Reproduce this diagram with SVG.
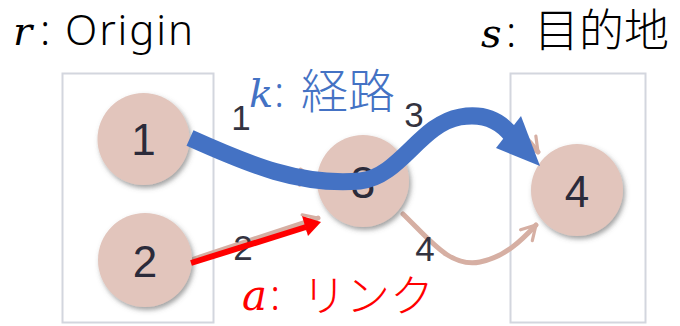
<svg xmlns="http://www.w3.org/2000/svg" width="680" height="326" viewBox="0 0 680 326">
<defs>
<filter id="sh" x="-30%" y="-30%" width="160%" height="160%">
<feDropShadow dx="2" dy="3" stdDeviation="2.5" flood-color="#555" flood-opacity="0.55"/>
</filter>
<marker id="chev" viewBox="0 0 10 10" refX="8" refY="5" markerWidth="4" markerHeight="4" orient="auto" markerUnits="strokeWidth">
<path d="M1,1 L8,5 L1,9" fill="none" stroke="#D6AFA3" stroke-width="1.6" stroke-linecap="round" stroke-linejoin="round"/>
</marker>
</defs>
<style>
.box{fill:none;stroke:#D3D6DE;stroke-width:2}
.node{fill:#E2C5BC;filter:url(#sh)}
.nlab{font-family:"Liberation Sans",Arial,sans-serif;font-size:44px;fill:#2B2B3A;text-anchor:middle}
.elab{font-family:"Liberation Sans",Arial,sans-serif;font-size:35px;fill:#333340;text-anchor:middle}
.faint{fill:none;stroke:#D6AFA3;stroke-width:5;stroke-linecap:round;marker-end:url(#chev)}
.math{font-family:"DejaVu Serif","Liberation Serif",serif;font-style:italic}
.jp{font-family:"Noto Sans","Noto Sans CJK JP",sans-serif;font-weight:300}
</style>
<rect class="box" x="62.5" y="73.5" width="151" height="249"/>
<rect class="box" x="510.5" y="73.5" width="135" height="249"/>

<g id="connectors">
<path class="faint" d="M194,141 C240,160 280,176 314,178"/>
<path class="faint" d="M194,259 L318,218"/>
<path class="faint" d="M404,160 C430,125 460,112 490,118 C510,122 525,135 538,152"/>
<path class="faint" d="M403,214 C430,240 450,268 480,262 C505,257 522,240 536,225"/>
</g>

<g id="n1"><circle class="node" cx="143.5" cy="139" r="46"/><text class="nlab" x="143.5" y="155">1</text></g>
<g id="n2"><circle class="node" cx="145" cy="260" r="47"/><text class="nlab" x="145" y="277">2</text></g>
<g id="n3"><circle class="node" cx="363" cy="181" r="46"/><text class="nlab" x="363" y="198">3</text></g>
<g id="n4"><circle class="node" cx="577" cy="190" r="46"/><text class="nlab" x="577" y="207">4</text></g>

<g id="edge-labels">
<text class="elab" x="241" y="130">1</text>
<text class="elab" x="243" y="260">2</text>
<text class="elab" x="414" y="127">3</text>
<text class="elab" x="425" y="261">4</text>
</g>

<g id="path-k">
<path d="M190,138 C250,165 300,186 360,181 C400,177 420,124 460,117 C488,112 503,124 512,136" fill="none" stroke="#4472C4" stroke-width="17"/>
<polygon points="496,148 521,116 540,166" fill="#4472C4"/>
</g>
<g id="link-a">
<line x1="191" y1="263" x2="306" y2="227" stroke="#FF0000" stroke-width="6"/>
<polygon points="302,216 321,222 308,236" fill="#FF0000"/>
</g>

<g id="titles">
<text class="math" x="13" y="45" font-size="40" fill="#000">r</text>
<text class="jp" x="40" y="45" font-size="42" fill="#000">:</text>
<text class="jp" x="65" y="45" font-size="42" fill="#000" textLength="128">Origin</text>
<text class="math" x="481" y="47" font-size="40" fill="#000">s</text>
<text class="jp" x="506" y="47" font-size="42" fill="#000">:</text>
<text class="jp" x="534" y="47" font-size="45" fill="#000">目的地</text>
<text class="math" x="249" y="107" font-size="40" fill="#4472C4">k</text>
<text class="jp" x="274" y="107" font-size="42" fill="#4472C4">:</text>
<text class="jp" x="301" y="108" font-size="47" fill="#4472C4">経路</text>
<text class="math" x="242" y="310" font-size="42" fill="#FF0000">a</text>
<text class="jp" x="270" y="310" font-size="42" fill="#FF0000">:</text>
<text class="jp" x="302" y="312" font-size="44" fill="#FF0000">リンク</text>
</g>
</svg>
